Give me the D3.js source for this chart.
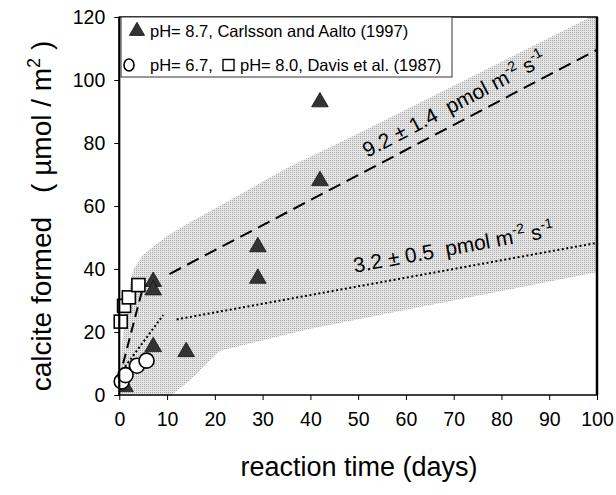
<!DOCTYPE html>
<html>
<head>
<meta charset="utf-8">
<script src="https://cdn.jsdelivr.net/npm/d3@7/dist/d3.min.js"></script>
<style>
  html, body { margin: 0; padding: 0; background: #fff; }
  svg { display: block; font-family: "Liberation Sans", Arial, Helvetica, sans-serif; }
</style>
</head>
<body>
<svg id="chart" width="616" height="495"></svg>
<script>
// Calcite precipitation vs. reaction time
const xTicks = [0, 10, 20, 30, 40, 50, 60, 70, 80, 90, 100];
const yTicks = [0, 20, 40, 60, 80, 100, 120];

// pH 8.7, Carlsson and Aalto (1997)
const carlssonDays   = [1.2, 7.1, 7.1, 7.1, 14, 29, 29, 42, 42];
const carlssonValues = [2.6, 36, 33.3, 15.3, 13.7, 47, 37, 68, 93];

// pH 6.7, Davis et al. (1987)
const davis67Days   = [0.5, 1.3, 3.7, 5.7];
const davis67Values = [4.3, 6.3, 9.3, 10.9];

// pH 8.0, Davis et al. (1987)
const davis80Days   = [0.3, 1.0, 2.0, 4.0];
const davis80Values = [23.3, 28.3, 31, 34.9];

// uncertainty envelope
const bandUpperDays   = [0, 0.5, 1.5, 3, 5, 7, 10, 15, 21, 35, 50, 100];
const bandUpperValues = [0, 15, 30, 40, 44.5, 47, 50.5, 55, 60, 72, 83, 121];
const bandLowerDays   = [0, 11, 15, 21, 40, 100];
const bandLowerValues = [0, 0, 5, 14, 21, 39];

// rate fits (dashed: 9.2 pmol m-2 s-1, dotted: 3.2 pmol m-2 s-1)
const fastFitDays     = [10.5, 100];
const fastFitValues   = [38.4, 109.6];
const fastEarlyDays   = [0.8, 5];
const fastEarlyValues = [10, 34.5];
const slowFitDays     = [12, 100];
const slowFitValues   = [24, 48.3];
const slowEarlyDays   = [1.2, 9.2];
const slowEarlyValues = [9, 25.4];

const fastLabel = ["9.2 ± 1.4  pmol m", "-2", " s", "-1"];
const slowLabel = ["3.2 ± 0.5  pmol m", "-2", " s", "-1"];

const legendRow1 = "pH= 8.7, Carlsson and Aalto (1997)";
const legendRow2a = "pH= 6.7,";
const legendRow2b = "pH= 8.0, Davis et al. (1987)";

const xTitle = "reaction time (days)";

const svg = d3.select("#chart");
const plotLeft = 119.3, plotRight = 597, plotTop = 17, plotBottom = 395;
const x = d3.scaleLinear().domain([0, 100]).range([plotLeft, plotRight]);
const y = d3.scaleLinear().domain([0, 120]).range([plotBottom, plotTop]);

const zip = (a, b) => a.map((d, i) => [d, b[i]]);

// stipple pattern for the envelope
const defs = svg.append("defs");
const pat = defs.append("pattern").attr("id", "stipple")
  .attr("patternUnits", "userSpaceOnUse").attr("width", 2).attr("height", 2);
pat.append("rect").attr("width", 2).attr("height", 2).attr("fill", "#e6e6e6");
pat.append("rect").attr("width", 1).attr("height", 1).attr("fill", "#a8a8a8");
defs.append("clipPath").attr("id", "plotClip").append("rect")
  .attr("x", plotLeft).attr("y", plotTop).attr("width", plotRight - plotLeft).attr("height", plotBottom - plotTop);

const plot = svg.append("g").attr("clip-path", "url(#plotClip)");

const bandPts = zip(bandUpperDays, bandUpperValues)
  .concat(zip(bandLowerDays, bandLowerValues).reverse());
plot.append("path")
  .attr("d", d3.line().x(d => x(d[0])).y(d => y(d[1]))(bandPts) + "Z")
  .attr("fill", "url(#stipple)");

const line = d3.line().x(d => x(d[0])).y(d => y(d[1]));
function drawLine(days, vals, dash) {
  plot.append("path").attr("d", line(zip(days, vals)))
    .attr("fill", "none").attr("stroke", "#000").attr("stroke-width", 2)
    .attr("stroke-dasharray", dash);
}
drawLine(fastFitDays, fastFitValues, "13,7");
drawLine(fastEarlyDays, fastEarlyValues, "10,6");
drawLine(slowFitDays, slowFitValues, "2,2.5");
drawLine(slowEarlyDays, slowEarlyValues, "2,2.5");

// rotated rate labels
function rateLabel(days, vals, atDay, offset, parts) {
  const ang = Math.atan2(y(vals[1]) - y(vals[0]), x(days[1]) - x(days[0])) * 180 / Math.PI;
  const v = vals[0] + (vals[1] - vals[0]) * (atDay - days[0]) / (days[1] - days[0]);
  const t = svg.append("text")
    .attr("transform", `translate(${x(atDay)},${y(v)}) rotate(${ang}) translate(0,${-offset})`)
    .attr("font-size", 21).attr("fill", "#000")
    .style("white-space", "pre");
  t.append("tspan").text(parts[0]);
  t.append("tspan").attr("font-size", 14).attr("dy", -9).text(parts[1]);
  t.append("tspan").attr("dy", 9).text(parts[2]);
  t.append("tspan").attr("font-size", 14).attr("dy", -9).text(parts[3]);
}
rateLabel(fastFitDays, fastFitValues, 53, 11, fastLabel);
rateLabel(slowFitDays, slowFitValues, 49.8, 14, slowLabel);

// markers
const triPath = d3.symbol().type(d3.symbolTriangle).size(120);
plot.selectAll(".tri").data(zip(carlssonDays, carlssonValues)).join("path")
  .attr("d", triPath).attr("transform", d => `translate(${x(d[0])},${y(d[1])})`)
  .attr("fill", "#333").attr("stroke", "#111").attr("stroke-width", 0.8);
svg.selectAll(".c67").data(zip(davis67Days, davis67Values)).join("circle")
  .attr("cx", d => x(d[0])).attr("cy", d => y(d[1])).attr("r", 7.5)
  .attr("fill", "#fff").attr("stroke", "#000").attr("stroke-width", 1.6);
svg.selectAll(".s80").data(zip(davis80Days, davis80Values)).join("rect")
  .attr("x", d => x(d[0]) - 6.5).attr("y", d => y(d[1]) - 6.5).attr("width", 13).attr("height", 13)
  .attr("fill", "#fff").attr("stroke", "#000").attr("stroke-width", 1.6);

// axes
const xAxis = svg.append("g").attr("transform", `translate(0,${plotBottom})`)
  .call(d3.axisBottom(x).tickValues(xTicks).tickSize(5).tickPadding(12).tickFormat(d3.format("d")));
const yAxis = svg.append("g").attr("transform", `translate(${plotLeft},0)`)
  .call(d3.axisLeft(y).tickValues(yTicks).tickSize(5).tickPadding(9).tickFormat(d3.format("d")));
[xAxis, yAxis].forEach(g => {
  g.select(".domain").remove();
  g.selectAll("line").attr("stroke", "#000").attr("stroke-width", 1);
  g.selectAll("text").attr("font-size", 19.5).attr("fill", "#000")
    .attr("font-family", "'Liberation Sans', Arial, sans-serif");
});

// frame
svg.append("rect").attr("x", plotLeft).attr("y", plotTop).attr("width", plotRight - plotLeft).attr("height", plotBottom - plotTop)
  .attr("fill", "none").attr("stroke", "#000").attr("stroke-width", 1.5);
svg.append("line").attr("x1", plotLeft).attr("x2", plotLeft).attr("y1", plotTop).attr("y2", plotBottom)
  .attr("stroke", "#000").attr("stroke-width", 2);
svg.append("line").attr("x1", plotRight).attr("x2", plotRight).attr("y1", plotTop).attr("y2", plotBottom)
  .attr("stroke", "#000").attr("stroke-width", 2.5);

// legend
const lg = svg.append("g");
lg.append("rect").attr("x", 121).attr("y", plotTop).attr("width", 331).attr("height", 60)
  .attr("fill", "#fff").attr("stroke", "#333").attr("stroke-width", 1);
lg.append("path").attr("d", d3.symbol().type(d3.symbolTriangle).size(100))
  .attr("transform", "translate(137,31)").attr("fill", "#333").attr("stroke", "#111").attr("stroke-width", 0.8);
lg.append("text").attr("x", 150).attr("y", 37).attr("font-size", 16.5).text(legendRow1);
lg.append("ellipse").attr("cx", 129).attr("cy", 65).attr("rx", 5).attr("ry", 6)
  .attr("fill", "#fff").attr("stroke", "#000").attr("stroke-width", 1.6);
lg.append("text").attr("x", 150).attr("y", 71).attr("font-size", 16.5).text(legendRow2a);
lg.append("rect").attr("x", 223).attr("y", 59.5).attr("width", 11).attr("height", 11)
  .attr("fill", "#fff").attr("stroke", "#000").attr("stroke-width", 1.4);
lg.append("text").attr("x", 240).attr("y", 71).attr("font-size", 16.5).text(legendRow2b);

// axis titles
svg.append("text").attr("x", 359).attr("y", 476).attr("text-anchor", "middle")
  .attr("font-size", 27).text(xTitle);
const yt = svg.append("text").attr("transform", "translate(51,216) rotate(-90)")
  .attr("text-anchor", "middle").attr("font-size", 28);
yt.append("tspan").text("calcite formed");
yt.append("tspan").attr("dx", 24).text("( µmol / m");
yt.append("tspan").attr("font-size", 18).attr("dy", -11).text("2");
yt.append("tspan").attr("dy", 11).text(" )");
</script>
</body>
</html>
